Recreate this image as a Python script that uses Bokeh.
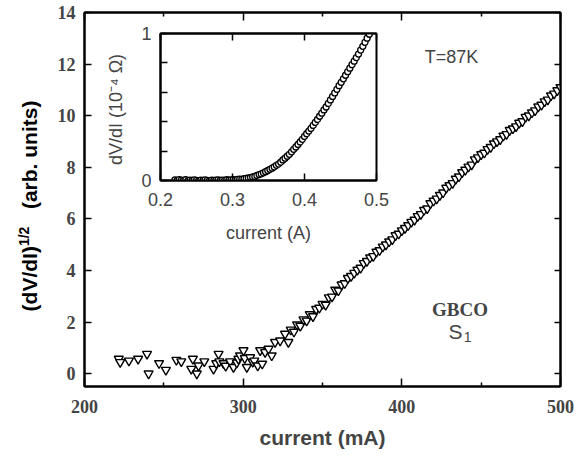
from bokeh.plotting import figure
from bokeh.models import FixedTicker, LinearAxis, Label, Range1d, CustomJSTickFormatter, Div
from bokeh.layouts import column
from bokeh.embed import file_html
from bokeh.resources import INLINE

# ---------------- data ----------------
# main panel: (dV/dI)^1/2 vs current (mA), low-current noisy part
low_x = [221.6, 222.5, 228.0, 233.8, 239.4, 240.4, 247.0, 251.3, 257.9, 261.0,
         267.3, 268.3, 270.8, 271.9, 275.5, 281.3, 283.0, 284.5, 285.0, 287.6,
         289.0, 291.8, 293.9, 296.0, 297.0, 298.0, 300.2, 301.0, 302.3, 304.4,
         306.0, 307.0, 309.2, 310.7, 312.0, 313.8, 316.0, 318.0, 320.1, 323.3,
         326.4, 328.5]
low_y = [0.57, 0.44, 0.50, 0.57, 0.76, 0.00, 0.40, 0.14, 0.53, 0.47,
         0.18, 0.57, 0.00, 0.31, 0.47, 0.18, 0.40, 0.76, 0.47, 0.40,
         0.30, 0.47, 0.25, 0.42, 0.57, 0.70, 0.90, 0.60, 0.25, 0.63,
         0.45, 0.50, 0.31, 0.90, 0.38, 0.83, 0.96, 0.70, 1.22, 1.28,
         1.54, 1.22]
# main panel: rising part
rise_x = [330, 332, 334, 336, 338, 340, 342, 344, 346, 348,
          350, 352, 354, 356, 358, 360, 362, 364, 366, 368,
          370, 372, 374, 376, 378, 380, 382, 384, 386, 388,
          390, 392, 394, 396, 398, 400, 402, 404, 406, 408,
          410, 412, 414, 416, 418, 420, 422, 424, 426, 428,
          430, 432, 434, 436, 438, 440, 442, 444, 446, 448,
          450, 452, 454, 456, 458, 460, 462, 464, 466, 468,
          470, 472, 474, 476, 478, 480, 482, 484, 486, 488,
          490, 492, 494, 496, 498, 500]
rise_y = [1.70, 1.62, 1.90, 1.85, 2.10, 2.05, 2.30, 2.22, 2.50, 2.55,
          2.70, 2.66, 2.95, 2.98, 3.25, 3.22, 3.45, 3.50, 3.70, 3.78,
          3.90, 4.02, 4.10, 4.28, 4.36, 4.50, 4.55, 4.72, 4.78, 4.92,
          5.00, 5.12, 5.20, 5.36, 5.42, 5.55, 5.64, 5.75, 5.88, 5.96,
          6.10, 6.18, 6.34, 6.40, 6.60, 6.70, 6.78, 6.92, 7.02, 7.20,
          7.30, 7.38, 7.55, 7.64, 7.80, 7.90, 8.02, 8.10, 8.30, 8.38,
          8.50, 8.56, 8.70, 8.78, 8.92, 9.00, 9.08, 9.22, 9.28, 9.44,
          9.50, 9.58, 9.72, 9.78, 9.95, 10.00, 10.12, 10.20, 10.35, 10.42,
          10.55, 10.62, 10.78, 10.85, 10.98, 11.10]

# inset: dV/dI (1e-4 Ohm) vs current (A)
inset_x = [0.220, 0.223, 0.226, 0.229, 0.232, 0.235, 0.238, 0.241, 0.244, 0.247,
           0.250, 0.253, 0.256, 0.259, 0.262, 0.265, 0.268, 0.271, 0.274, 0.277,
           0.280, 0.283, 0.286, 0.289, 0.292, 0.295, 0.298, 0.301, 0.304, 0.307,
           0.310, 0.313, 0.316, 0.319, 0.322, 0.325, 0.328, 0.331, 0.334, 0.337,
           0.340, 0.343, 0.346, 0.349, 0.352, 0.355, 0.358, 0.361, 0.364, 0.367,
           0.370, 0.373, 0.376, 0.379, 0.382, 0.385, 0.388, 0.391, 0.394, 0.397,
           0.400, 0.403, 0.406, 0.409, 0.412, 0.415, 0.418, 0.421, 0.424, 0.427,
           0.430, 0.433, 0.436, 0.439, 0.442, 0.445, 0.448, 0.451, 0.454, 0.457,
           0.460, 0.463, 0.466, 0.469, 0.472, 0.475, 0.478, 0.481, 0.484, 0.487,
           0.490]
inset_y = [0.004, 0.000, 0.006, 0.002, 0.000, 0.005, -0.002, 0.003, 0.000, 0.004,
           0.001, -0.003, 0.002, 0.000, 0.004, 0.001, -0.002, 0.003, 0.000, 0.002,
           0.004, 0.000, 0.003, 0.001, 0.005, 0.002, 0.004, 0.006, 0.003, 0.007,
           0.009, 0.008, 0.012, 0.014, 0.017, 0.020, 0.024, 0.028, 0.034, 0.040,
           0.045, 0.052, 0.060, 0.068, 0.076, 0.084, 0.092, 0.103, 0.112, 0.124,
           0.140, 0.152, 0.165, 0.178, 0.195, 0.212, 0.228, 0.245, 0.262, 0.280,
           0.300, 0.318, 0.336, 0.354, 0.375, 0.395, 0.415, 0.437, 0.458, 0.480,
           0.500, 0.524, 0.548, 0.572, 0.596, 0.620, 0.645, 0.668, 0.692, 0.716,
           0.740, 0.764, 0.788, 0.812, 0.836, 0.860, 0.887, 0.913, 0.940, 0.968,
           0.995]

main_x_ticks = [200, 300, 400, 500]
main_x_minor = [250, 350, 450]
main_y_ticks = [0, 2, 4, 6, 8, 10, 12, 14]
inset_x_ticks = [0.2, 0.3, 0.4, 0.5]
inset_y_ticks = [0, 1]
inset_y_minor = [0.2, 0.4, 0.6, 0.8]

SANS = "Liberation Sans"
SERIF = "Liberation Serif"
blank = CustomJSTickFormatter(code="return ''")


def style_axis(ax, major_in, minor_in=0, width=2):
    ax.axis_line_width = width
    ax.axis_line_color = "black"
    ax.major_tick_in = major_in
    ax.major_tick_out = 0
    ax.minor_tick_in = minor_in
    ax.minor_tick_out = 0
    ax.major_tick_line_width = 1.5
    ax.minor_tick_line_width = 1.5


# ---------------- main figure ----------------
p = figure(width=587, height=459, x_range=Range1d(200, 500), y_range=Range1d(-0.5, 14),
           output_backend="svg", toolbar_location=None,
           min_border_left=84, min_border_right=27, min_border_top=12, min_border_bottom=73)
p.xgrid.visible = False
p.ygrid.visible = False
p.outline_line_color = "black"
p.outline_line_width = 2
p.background_fill_color = "white"
p.border_fill_color = "white"

p.xaxis.ticker = FixedTicker(ticks=main_x_ticks, minor_ticks=main_x_minor)
p.yaxis.ticker = FixedTicker(ticks=main_y_ticks)
for ax in p.xaxis:
    style_axis(ax, 8, 4)
    ax.major_label_text_font = SERIF
    ax.major_label_text_font_style = "bold"
    ax.major_label_text_font_size = "18px"
    ax.major_label_standoff = 13
    ax.axis_label = "current (mA)"
    ax.axis_label_text_font = SANS
    ax.axis_label_text_font_style = "bold"
    ax.axis_label_text_font_size = "21px"
    ax.axis_label_standoff = 10
for ax in p.yaxis:
    style_axis(ax, 7)
    ax.major_label_text_font = SERIF
    ax.major_label_text_font_style = "bold"
    ax.major_label_text_font_size = "18px"
    ax.major_label_standoff = 9

top_ax = LinearAxis(ticker=FixedTicker(ticks=main_x_ticks, minor_ticks=main_x_minor), formatter=blank)
style_axis(top_ax, 8, 4)
top_ax.major_label_standoff = 0
p.add_layout(top_ax, "above")
right_ax = LinearAxis(ticker=FixedTicker(ticks=main_y_ticks), formatter=blank)
style_axis(right_ax, 6)
right_ax.major_label_standoff = 0
p.add_layout(right_ax, "right")

p.scatter(low_x, low_y, marker="inverted_triangle", size=9, line_color="black",
          fill_color="white", line_width=1.4)
p.scatter(rise_x, rise_y, marker="inverted_triangle", size=9, line_color="black",
          fill_color="white", line_width=1.4)

p.add_layout(Label(x=431.3, y=12.29, text="T=87K", text_align="center", text_baseline="middle",
                   text_font=SANS, text_font_size="18px"))
p.add_layout(Label(x=436.7, y=2.5, text="GBCO", text_align="center", text_baseline="middle",
                   text_font=SERIF, text_font_style="bold", text_font_size="19px"))
p.add_layout(Label(x=433.8, y=1.63, text="S", text_align="center", text_baseline="middle",
                   text_font=SANS, text_font_size="21px"))
p.add_layout(Label(x=441.5, y=1.42, text="1", text_align="center", text_baseline="middle",
                   text_font=SANS, text_font_size="14px"))

# y-axis title with superscript 1/2 (rotated HTML text)
ytitle = Div(text='(dV/dI)<sup style="font-size:14px;">1/2</sup>&nbsp;&nbsp;&nbsp;(arb. units)',
             width=240, height=26,
             styles={"position": "absolute", "left": "-101px", "top": "188px",
                     "width": "240px", "height": "26px",
                     "transform": "rotate(-90deg)", "transform-origin": "50% 50%",
                     "font-family": "Liberation Sans", "font-weight": "bold",
                     "font-size": "21px", "white-space": "nowrap", "text-align": "center",
                     "line-height": "26px", "color": "black"})

# ---------------- inset ----------------
inset = figure(width=327, height=235, x_range=Range1d(0.2, 0.5), y_range=Range1d(0, 1),
               output_backend="svg", toolbar_location=None,
               min_border_left=61, min_border_right=17, min_border_top=8, min_border_bottom=80,
               styles={"position": "absolute", "left": "76px", "top": "25px",
                       "width": "327px", "height": "235px", "margin": "0px"})
inset.xgrid.visible = False
inset.ygrid.visible = False
inset.outline_line_color = "black"
inset.outline_line_width = 2
inset.background_fill_color = "white"
inset.border_fill_alpha = 0

inset.xaxis.ticker = FixedTicker(ticks=inset_x_ticks)
inset.yaxis.ticker = FixedTicker(ticks=inset_y_ticks, minor_ticks=inset_y_minor)
for ax in inset.xaxis:
    style_axis(ax, 7)
    ax.major_label_text_font = SANS
    ax.major_label_text_font_size = "18px"
    ax.major_label_standoff = 12
    ax.axis_label = "current (A)"
    ax.axis_label_text_font = SANS
    ax.axis_label_text_font_style = "normal"
    ax.axis_label_text_font_size = "18px"
    ax.axis_label_standoff = 14
for ax in inset.yaxis:
    style_axis(ax, 7, 7)
    ax.major_label_text_font = SANS
    ax.major_label_text_font_size = "18px"
    ax.major_label_standoff = 9
    ax.axis_label = "dV/dI  (10\u207b\u2074 \u03a9)"
    ax.axis_label_text_font = SANS
    ax.axis_label_text_font_style = "normal"
    ax.axis_label_text_font_size = "18px"
    ax.axis_label_standoff = 12

in_top = LinearAxis(ticker=FixedTicker(ticks=inset_x_ticks), formatter=blank)
style_axis(in_top, 7)
in_top.major_label_standoff = 0
inset.add_layout(in_top, "above")

inset.scatter(inset_x, inset_y, marker="circle", size=6, line_color="black",
              fill_color="white", line_width=1.3)

layout = column(p, inset, ytitle, width=587, height=459)
open("out.html", "w").write(file_html(layout, INLINE))
